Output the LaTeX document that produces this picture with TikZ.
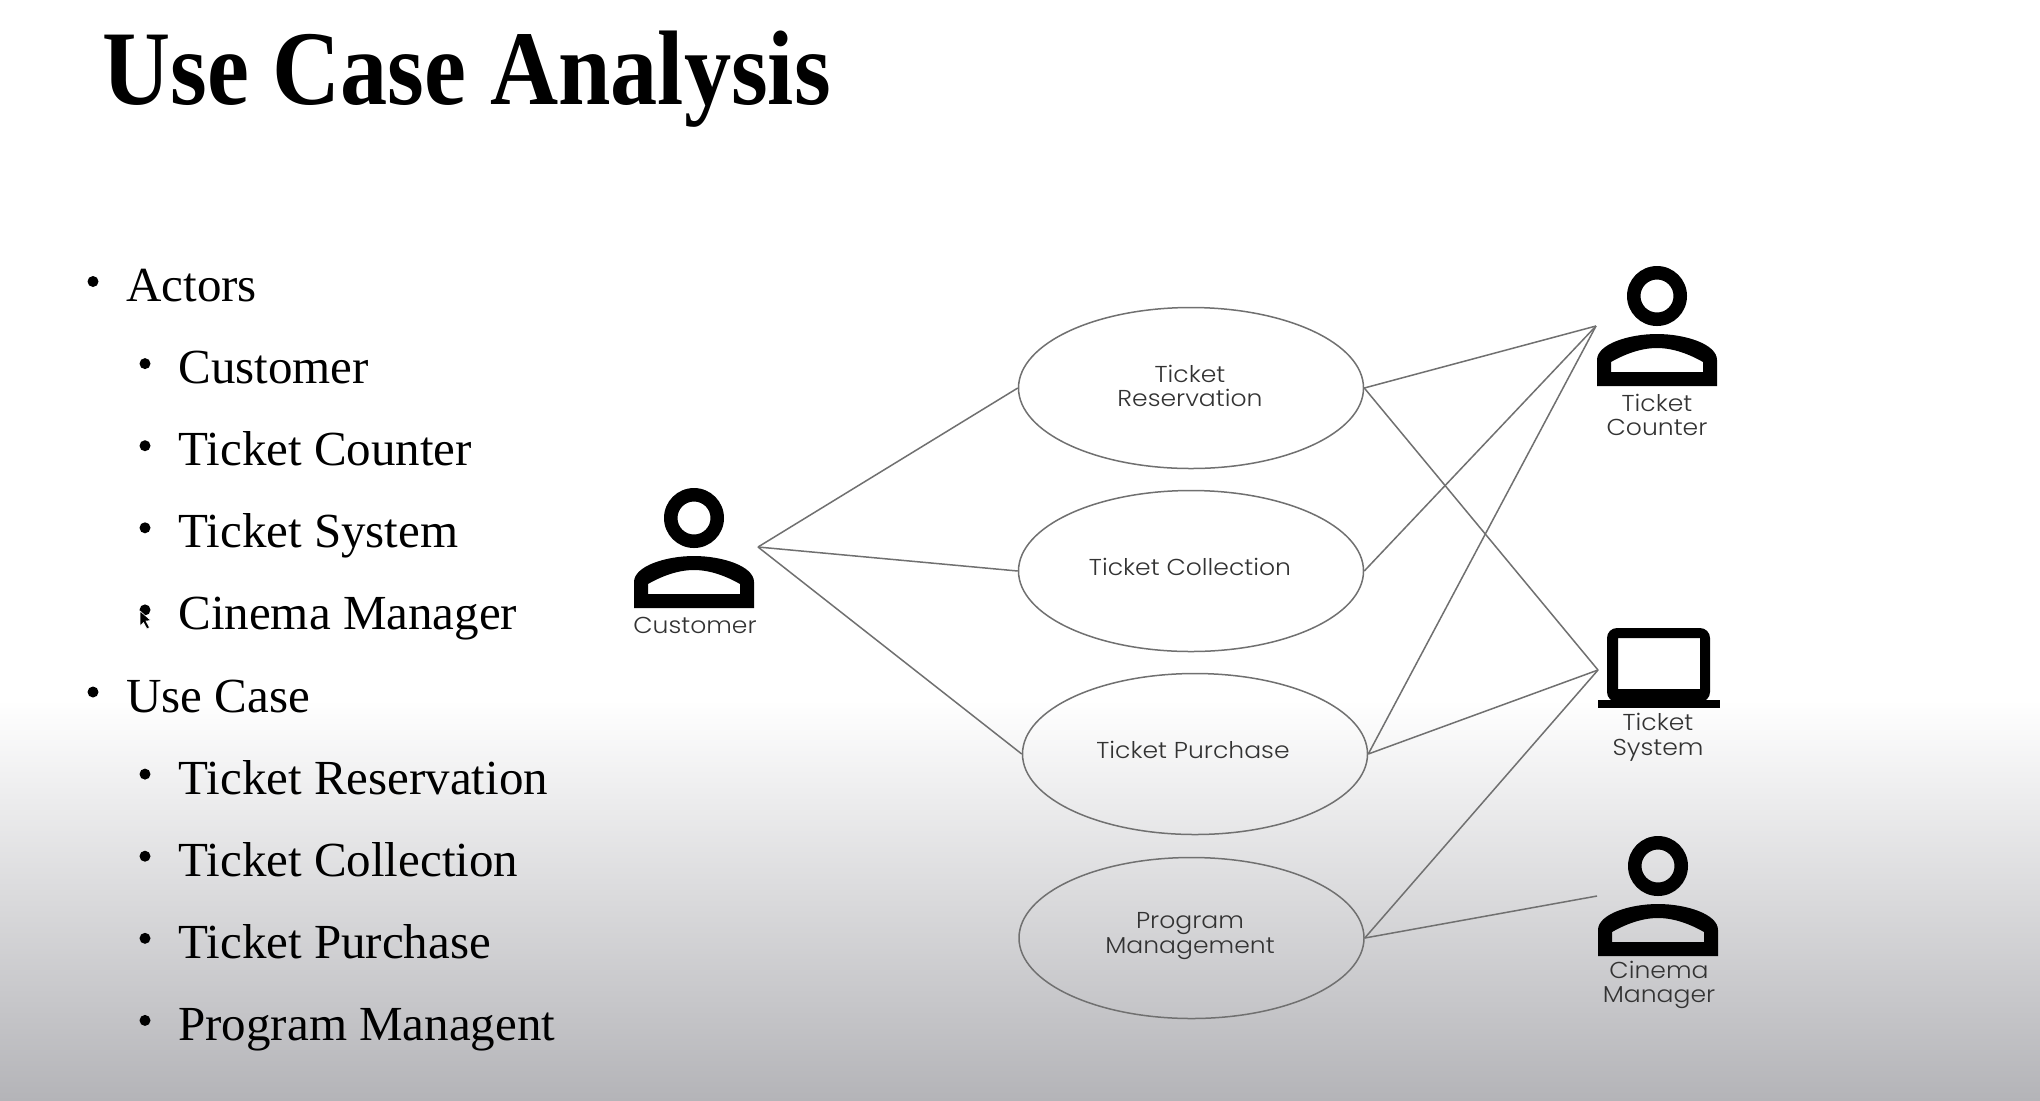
\documentclass[tikz,border=0pt]{standalone}
\usepackage{fontspec}
\setmainfont{Liberation Serif}
\newfontfamily\titlefont[FakeStretch=0.89]{Liberation Serif Bold}
\newfontfamily\handfont[UprightFont=* Light,FakeStretch=1.09]{Poppins}
\usetikzlibrary{shapes.geometric}
\definecolor{bgC}{HTML}{B4B4B8}
\definecolor{linegray}{HTML}{707070}
\definecolor{handgray}{HTML}{333333}
\tikzset{
  x=0.5pt,y=-0.5pt,
  title/.style={anchor=base west,inner sep=0pt,font=\titlefont\fontsize{53}{53}\selectfont,text=black},
  itema/.style={anchor=base west,inner sep=0pt,font=\fontsize{24.5}{25}\selectfont,text=black},
  bulletdot/.style={circle,fill=black,inner sep=0pt,minimum size=5.5pt},
  usecase/.style={ellipse,draw=linegray,line width=0.75pt,inner sep=0pt,minimum width=172.5pt,minimum height=80.5pt,align=center},
  handtext/.style={inner sep=0pt,align=center,text=handgray,font=\handfont\fontsize{11.5}{12.3}\selectfont},
  assoc/.style={draw=linegray,line width=0.75pt},
  person/.pic={
    \fill[even odd rule] (0,0) circle[radius=30] (0,0) circle[radius=16.5];
    \fill[even odd rule] (-60,90) -- (-60,64) .. controls (-60,48) and (-28,38) .. (0,38)
      .. controls (28,38) and (60,48) .. (60,64) -- (60,90) -- cycle
      (-46,76) -- (-46,66) .. controls (-32,58) and (-16,52) .. (0,52)
      .. controls (16,52) and (32,58) .. (46,66) -- (46,76) -- cycle;
  },
  laptop/.pic={
    \fill[even odd rule,rounded corners=5pt] (-51,-42) rectangle (52,32)
      [sharp corners] (-40,-32) rectangle (42,19);
    \fill (-60,30) rectangle (62,38);
  }
}
\begin{document}
\begin{tikzpicture}
\useasboundingbox (0,0) rectangle (2040,1100);
\fill[white] (0,0) rectangle (2040,700);
\shade[top color=white,bottom color=bgC] (0,700) rectangle (2040,1100);

\node[title] (ttl) at (102,104) {Use Case Analysis};

\foreach \nm/\lvl/\idx/\txt in {
  a/1/0/Actors, b/2/1/Customer, c/2/2/Ticket Counter, d/2/3/Ticket System,
  e/2/4/Cinema Manager, f/1/5/Use Case, g/2/6/Ticket Reservation,
  h/2/7/Ticket Collection, i/2/8/Ticket Purchase, j/2/9/Program Managent}{
  \pgfmathsetmacro{\yy}{301.5+82.1*\idx}
  \pgfmathsetmacro{\xt}{\lvl==1 ? 126 : 178}
  \pgfmathsetmacro{\xb}{\lvl==1 ? 93 : 145}
  \node[itema] (item\nm) at (\xt,\yy) {\txt};
  \node[bulletdot] (dot\nm) at (\xb,\yy-20) {};
}
% mouse pointer over the bullet
\filldraw[fill=black,draw=white,line width=0.3pt] (140,611) -- (140,626) -- (143.5,622.5) -- (147,629) -- (149.5,627.5) -- (146,621) -- (151,620.5) -- cycle;

\node[usecase] (ur) at (1191,388) {};
\node[usecase] (uc) at (1191,571) {};
\node[usecase] (up) at (1195,754) {};
\node[usecase] (um) at (1191.5,938) {};

\node[handtext] (urt) at (1190,386) {Ticket\\Reservation};
\node[handtext] (uct) at (1190,567) {Ticket Collection};
\node[handtext] (upt) at (1193,750) {Ticket Purchase};
\node[handtext] (umt) at (1190,936) {Program\\Management};

\pic at (694,518) {person};
\pic at (1657,296) {person};
\pic at (1658,866) {person};
\pic at (1658,670) {laptop};

\node[handtext] (lcu) at (695,625) {Customer};
\node[handtext] (lco) at (1657,415) {Ticket\\Counter};
\node[handtext] (lsy) at (1658,737) {Ticket\\System};
\node[handtext] (lma) at (1659,985) {Cinema\\Manager};

\coordinate (cust) at (758,547);
\coordinate (tcnt) at (1596,326);
\coordinate (tsys) at (1598,670);
\coordinate (cmgr) at (1597,896);

\draw[assoc] (cust) -- (ur.west);
\draw[assoc] (cust) -- (uc.west);
\draw[assoc] (cust) -- (up.west);
\draw[assoc] (ur.east) -- (tcnt);
\draw[assoc] (uc.east) -- (tcnt);
\draw[assoc] (up.east) -- (tcnt);
\draw[assoc] (ur.east) -- (tsys);
\draw[assoc] (up.east) -- (tsys);
\draw[assoc] (um.east) -- (tsys);
\draw[assoc] (um.east) -- (cmgr);
\end{tikzpicture}
\end{document}
